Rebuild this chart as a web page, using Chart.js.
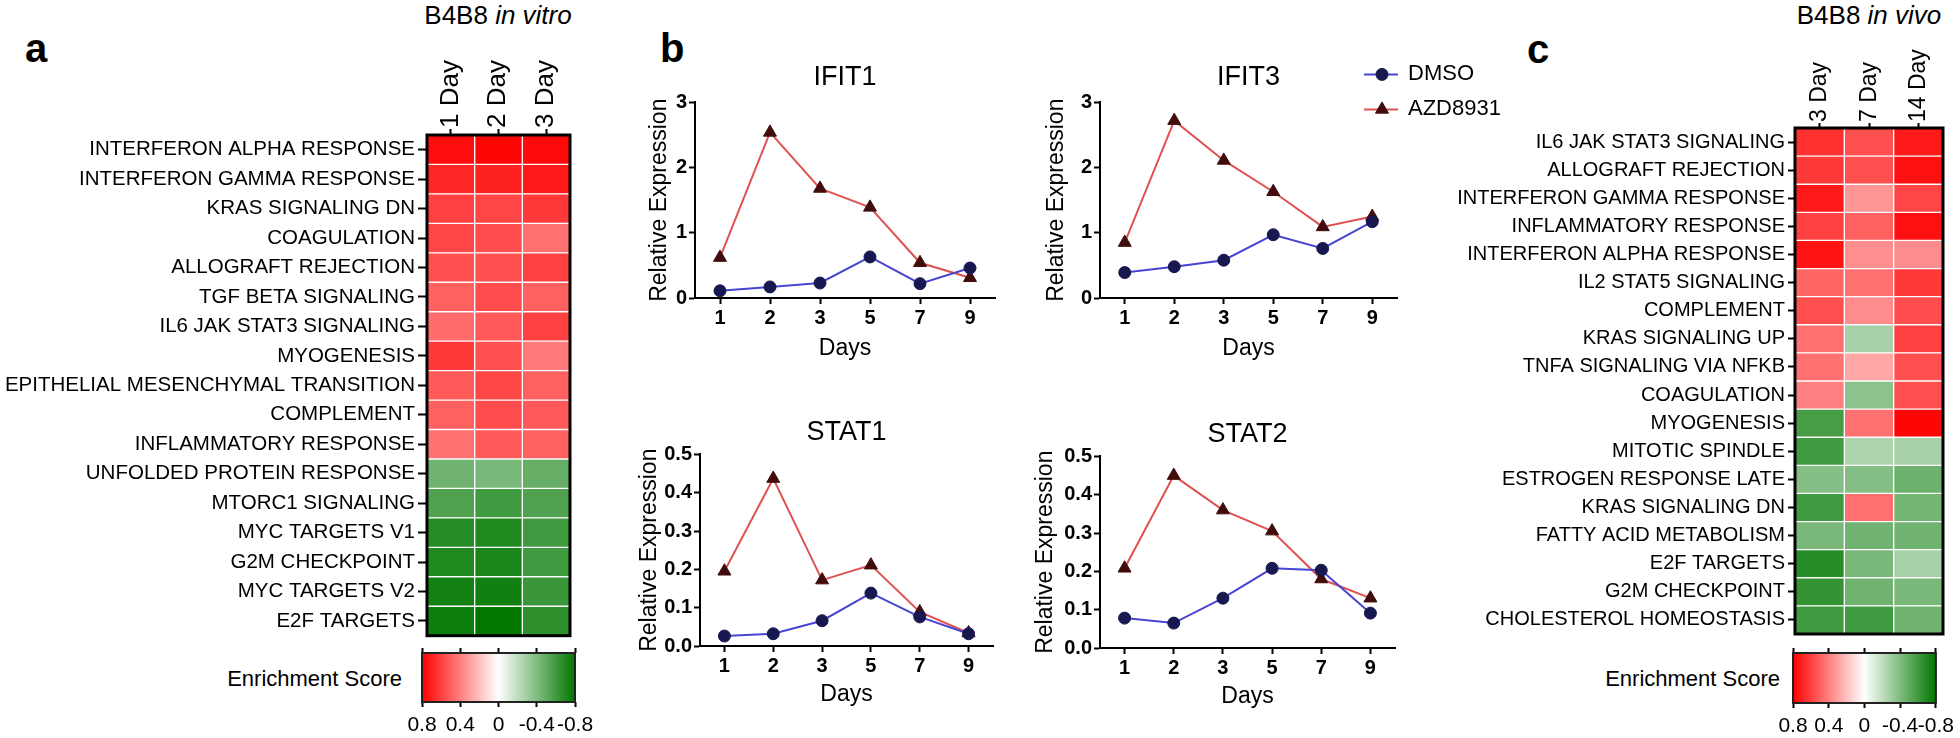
<!DOCTYPE html>
<html>
<head>
<meta charset="utf-8">
<script src="https://cdn.jsdelivr.net/npm/chart.js@4.4.1/dist/chart.umd.min.js"></script>
<style>
body { margin: 0; background: #fff; width: 1960px; height: 738px; position: relative; overflow: hidden;
       font-family: "Liberation Sans", Arial, sans-serif; color: #000; }
canvas { position: absolute; }
.lbl { position: absolute; white-space: nowrap; line-height: 1; }
.panel { font-size: 40px; font-weight: bold; }
.head { font-size: 26px; text-align: center; width: 200px; }
.es { font-size: 22px; text-align: right; width: 220px; }
</style>
</head>
<body>
<div class="lbl panel" style="left:25px;top:28px">a</div>
<div class="lbl panel" style="left:660px;top:28px">b</div>
<div class="lbl panel" style="left:1527px;top:29px">c</div>
<div class="lbl head" style="left:398px;top:2px">B4B8 <i>in vitro</i></div>
<div class="lbl head" style="left:1769px;top:2px">B4B8 <i>in vivo</i></div>
<div class="lbl es" style="left:182px;top:668px">Enrichment Score</div>
<div class="lbl es" style="left:1560px;top:668px">Enrichment Score</div>

<canvas id="heatVitro" width="580" height="651" style="left:0;top:0"></canvas>
<canvas id="barVitro" width="230" height="98" style="left:380px;top:640px"></canvas>
<canvas id="ifit1" width="354" height="301" style="left:646px;top:61px"></canvas>
<canvas id="ifit3" width="464" height="301" style="left:1043px;top:61px"></canvas>
<canvas id="stat1" width="362" height="292" style="left:636px;top:416px"></canvas>
<canvas id="stat2" width="368" height="292" style="left:1032px;top:418px"></canvas>
<canvas id="heatVivo" width="520" height="649" style="left:1440px;top:0"></canvas>
<canvas id="barVivo" width="210" height="98" style="left:1750px;top:640px"></canvas>

<script>
Chart.defaults.font.family = '"Liberation Sans", Arial, sans-serif';
Chart.defaults.color = '#000';

// ---- panel a: in vitro heatmap
const ROWS_VITRO = ['INTERFERON ALPHA RESPONSE', 'INTERFERON GAMMA RESPONSE', 'KRAS SIGNALING DN',
    'COAGULATION', 'ALLOGRAFT REJECTION', 'TGF BETA SIGNALING', 'IL6 JAK STAT3 SIGNALING', 'MYOGENESIS',
    'EPITHELIAL MESENCHYMAL TRANSITION', 'COMPLEMENT', 'INFLAMMATORY RESPONSE', 'UNFOLDED PROTEIN RESPONSE',
    'MTORC1 SIGNALING', 'MYC TARGETS V1', 'G2M CHECKPOINT', 'MYC TARGETS V2', 'E2F TARGETS'];
const COLS_VITRO = ['1 Day', '2 Day', '3 Day'];
const VITRO_DAY1 = [0.76, 0.68, 0.6, 0.58, 0.55, 0.5, 0.46, 0.62, 0.52, 0.5, 0.45, -0.45, -0.55, -0.68, -0.7, -0.74, -0.76];
const VITRO_DAY2 = [0.78, 0.7, 0.58, 0.56, 0.55, 0.56, 0.52, 0.55, 0.58, 0.56, 0.52, -0.42, -0.6, -0.7, -0.72, -0.75, -0.8];
const VITRO_DAY3 = [0.77, 0.72, 0.62, 0.45, 0.6, 0.5, 0.6, 0.42, 0.5, 0.52, 0.5, -0.48, -0.55, -0.6, -0.6, -0.62, -0.66];

// ---- panel c: in vivo heatmap
const ROWS_VIVO = ['IL6 JAK STAT3 SIGNALING', 'ALLOGRAFT REJECTION', 'INTERFERON GAMMA RESPONSE',
    'INFLAMMATORY RESPONSE', 'INTERFERON ALPHA RESPONSE', 'IL2 STAT5 SIGNALING', 'COMPLEMENT',
    'KRAS SIGNALING UP', 'TNFA SIGNALING VIA NFKB', 'COAGULATION', 'MYOGENESIS', 'MITOTIC SPINDLE',
    'ESTROGEN RESPONSE LATE', 'KRAS SIGNALING DN', 'FATTY ACID METABOLISM', 'E2F TARGETS',
    'G2M CHECKPOINT', 'CHOLESTEROL HOMEOSTASIS'];
const COLS_VIVO = ['3 Day', '7 Day', '14 Day'];
const VIVO_DAY3 = [0.65, 0.62, 0.72, 0.6, 0.74, 0.48, 0.55, 0.45, 0.45, 0.4, -0.58, -0.6, -0.38, -0.6, -0.42, -0.68, -0.64, -0.6];
const VIVO_DAY7 = [0.55, 0.55, 0.33, 0.5, 0.35, 0.45, 0.36, -0.27, 0.28, -0.36, 0.45, -0.25, -0.38, 0.45, -0.45, -0.42, -0.45, -0.6];
const VIVO_DAY14 = [0.72, 0.75, 0.58, 0.75, 0.36, 0.62, 0.56, 0.6, 0.55, 0.55, 0.78, -0.28, -0.46, -0.44, -0.45, -0.28, -0.42, -0.45];

// ---- colour bar
const SCORE_TICKS = [0.8, 0.4, 0, -0.4, -0.8];
const SCORE_LABELS = ['0.8', '0.4', '0', '-0.4', '-0.8'];

// ---- panel b: qPCR time courses
const DAYS = ['1', '2', '3', '5', '7', '9'];
const IFIT_TICKS = [0, 1, 2, 3];
const STAT_TICKS = [0, 0.1, 0.2, 0.3, 0.4, 0.5];
const IFIT1_DMSO = [0.11, 0.17, 0.23, 0.63, 0.22, 0.46];
const IFIT1_AZD = [0.62, 2.54, 1.68, 1.39, 0.54, 0.31];
const IFIT3_DMSO = [0.39, 0.48, 0.58, 0.97, 0.76, 1.17];
const IFIT3_AZD = [0.85, 2.72, 2.11, 1.63, 1.09, 1.25];
const STAT1_DMSO = [0.026, 0.032, 0.066, 0.138, 0.076, 0.032];
const STAT1_AZD = [0.195, 0.437, 0.172, 0.211, 0.089, 0.034];
const STAT2_DMSO = [0.078, 0.065, 0.13, 0.208, 0.203, 0.091];
const STAT2_AZD = [0.208, 0.45, 0.36, 0.305, 0.18, 0.13];


function scoreColor(v) {
    const t = Math.min(Math.abs(v) / 0.8, 1);
    const c = Math.round(255 * (1 - t));
    if (v >= 0) return `rgb(255,${c},${c})`;
    return `rgb(${c},${Math.round(255 - 135 * t)},${c})`;
}

function scoreGradient(chart) {
    const {ctx, chartArea, scales} = chart;
    if (!chartArea) return '#fff';
    const x0 = scales.x.getPixelForValue(SCORE_TICKS[0]);
    const x1 = scales.x.getPixelForValue(SCORE_TICKS[SCORE_TICKS.length - 1]);
    const g = ctx.createLinearGradient(x0, 0, x1, 0);
    g.addColorStop(0, scoreColor(0.8));
    g.addColorStop(0.5, '#fff');
    g.addColorStop(1, scoreColor(-0.8));
    return g;
}

// black box round the plot area
const frame = {
    id: 'frame',
    afterDatasetsDraw(chart, args, opts) {
        const {ctx, chartArea: a} = chart;
        ctx.save();
        ctx.lineWidth = opts.width;
        ctx.strokeStyle = opts.color;
        ctx.strokeRect(a.left, a.top, a.right - a.left, a.bottom - a.top);
        ctx.restore();
    }
};

function drawMarker(ctx, style, r, x, y) {
    ctx.beginPath();
    if (style === 'triangle') {
        ctx.moveTo(x, y - r);
        ctx.lineTo(x + r * Math.sin(2 * Math.PI / 3), y - r * Math.cos(2 * Math.PI / 3));
        ctx.lineTo(x + r * Math.sin(4 * Math.PI / 3), y - r * Math.cos(4 * Math.PI / 3));
        ctx.closePath();
    } else {
        ctx.arc(x, y, r, 0, Math.PI * 2);
    }
    ctx.fill();
    ctx.stroke();
}

// legend placed above the right end of the plot, like the original
const seriesKey = {
    id: 'seriesKey',
    afterDraw(chart, args, opts) {
        if (!opts.show) return;
        const {ctx, chartArea} = chart;
        chart.data.datasets.forEach((ds, i) => {
            const x = chartArea.right + opts.x;
            const y = chartArea.top + opts.y + i * opts.gap;
            ctx.save();
            ctx.strokeStyle = ds.borderColor;
            ctx.lineWidth = ds.borderWidth;
            ctx.beginPath();
            ctx.moveTo(x, y);
            ctx.lineTo(x + 34, y);
            ctx.stroke();
            ctx.fillStyle = ds.pointBackgroundColor;
            ctx.strokeStyle = ds.pointBorderColor;
            ctx.lineWidth = 1;
            drawMarker(ctx, ds.pointStyle, ds.pointRadius, x + 18, y);
            ctx.fillStyle = '#000';
            ctx.font = '22px "Liberation Sans", Arial, sans-serif';
            ctx.textBaseline = 'middle';
            ctx.fillText(ds.label, x + 44, y);
            ctx.restore();
        });
    }
};

function heatmap(id, rows, cols, columns, box) {
    new Chart(document.getElementById(id), {
        type: 'bar',
        data: {
            labels: rows,
            datasets: columns.map((vals, j) => ({
                label: cols[j],
                data: vals.map(() => [j, j + 1]),
                backgroundColor: vals.map(scoreColor),
                borderColor: '#fff',
                borderWidth: 1,
                borderSkipped: false,
                barPercentage: 1,
                categoryPercentage: 1,
                grouped: false
            }))
        },
        options: {
            indexAxis: 'y',
            responsive: false,
            animation: false,
            layout: {padding: box.pad, autoPadding: false},
            plugins: {
                legend: {display: false},
                tooltip: {enabled: false},
                frame: {width: 3, color: '#000'}
            },
            scales: {
                x: {
                    type: 'linear', position: 'top', min: 0, max: cols.length,
                    afterBuildTicks: s => { s.ticks = cols.map((c, j) => ({value: j + 0.5})); },
                    afterFit: s => { s.height = box.xh; },
                    // rotated top labels sit one line height left of the tick; pull them back
                    ticks: {callback: (v, i) => cols[i], minRotation: 90, maxRotation: 90, autoSkip: false,
                        padding: 1, labelOffset: Math.round(box.colFont * 1.2), font: {size: box.colFont}},
                    grid: {drawOnChartArea: false, tickLength: box.colTick, tickWidth: 2, tickColor: '#000'},
                    border: {display: false}
                },
                y: {
                    afterFit: s => { s.width = box.yw; },
                    ticks: {autoSkip: false, padding: 3, font: {size: box.rowFont}},
                    grid: {drawOnChartArea: false, offset: false, tickLength: box.rowTick, tickWidth: 2, tickColor: '#000'},
                    border: {display: false}
                }
            }
        },
        plugins: [frame]
    });
}

function colorbar(id, box) {
    const axis = {
        type: 'linear',
        min: SCORE_TICKS[SCORE_TICKS.length - 1],
        max: SCORE_TICKS[0],
        reverse: true,
        afterBuildTicks: s => { s.ticks = SCORE_TICKS.map(v => ({value: v})); },
        grid: {drawOnChartArea: false, tickLength: 5, tickWidth: 2, tickColor: '#000'},
        border: {display: false}
    };
    new Chart(document.getElementById(id), {
        type: 'bar',
        data: {
            labels: ['Enrichment Score'],
            datasets: [{
                data: [[SCORE_TICKS[0], SCORE_TICKS[SCORE_TICKS.length - 1]]],
                backgroundColor: c => scoreGradient(c.chart),
                borderWidth: 0,
                barPercentage: 1,
                categoryPercentage: 1
            }]
        },
        options: {
            indexAxis: 'y',
            responsive: false,
            animation: false,
            layout: {padding: box.pad, autoPadding: false},
            plugins: {
                legend: {display: false},
                tooltip: {enabled: false},
                frame: {width: 2, color: '#222'}
            },
            scales: {
                x: Object.assign({}, axis, {
                    position: 'bottom',
                    afterFit: s => { s.height = box.xh; },
                    ticks: {callback: (v, i) => SCORE_LABELS[i], autoSkip: false, maxRotation: 0, padding: 6, font: {size: 21}}
                }),
                x2: Object.assign({}, axis, {
                    axis: 'x',
                    position: 'top',
                    afterFit: s => { s.height = 13; },
                    ticks: {display: false}
                }),
                y: {display: false}
            }
        },
        plugins: [frame]
    });
}

function lineChart(id, title, dmso, azd, yTicks, digits, box, key) {
    const tickGrid = {drawOnChartArea: false, offset: false, tickLength: 6, tickWidth: 2, tickColor: '#000'};
    const axisLine = {color: '#000', width: 2};
    new Chart(document.getElementById(id), {
        type: 'line',
        data: {
            labels: DAYS,
            datasets: [
                {
                    label: 'DMSO',
                    data: dmso,
                    borderColor: '#4646d2',
                    borderWidth: 2,
                    pointStyle: 'circle',
                    pointRadius: 6,
                    pointBackgroundColor: '#181850',
                    pointBorderColor: '#181850',
                    pointBorderWidth: 1
                },
                {
                    label: 'AZD8931',
                    data: azd,
                    borderColor: '#e05252',
                    borderWidth: 2,
                    pointStyle: 'triangle',
                    pointRadius: 7.5,
                    pointBackgroundColor: '#400c0c',
                    pointBorderColor: '#400c0c',
                    pointBorderWidth: 1
                }
            ]
        },
        options: {
            responsive: false,
            animation: false,
            layout: {padding: {left: 0, top: 0, bottom: 0, right: box.padRight}, autoPadding: false},
            plugins: {
                legend: {display: false},
                tooltip: {enabled: false},
                title: {
                    display: true, text: title, fullSize: false, color: '#000',
                    font: {size: 27, weight: 'normal'},
                    padding: {top: 0, bottom: box.tpad}
                },
                seriesKey: key || {show: false}
            },
            scales: {
                x: {
                    offset: true,
                    afterFit: s => { s.height = box.xh; },
                    ticks: {font: {size: 20, weight: 'bold'}, padding: 2, maxRotation: 0},
                    grid: tickGrid,
                    border: axisLine,
                    title: {display: true, text: 'Days', font: {size: 23}, padding: 0}
                },
                y: {
                    min: yTicks[0],
                    max: yTicks[yTicks.length - 1],
                    afterBuildTicks: s => { s.ticks = yTicks.map(v => ({value: v})); },
                    afterFit: s => { s.width = box.yw; },
                    ticks: {callback: v => v.toFixed(digits), font: {size: 20, weight: 'bold'}, padding: 2},
                    grid: tickGrid,
                    border: axisLine,
                    title: {display: true, text: 'Relative Expression', font: {size: 23}, padding: 0}
                }
            }
        },
        plugins: [seriesKey]
    });
}

heatmap('heatVitro', ROWS_VITRO, COLS_VITRO, [VITRO_DAY1, VITRO_DAY2, VITRO_DAY3],
    {pad: {left: 0, top: 0, right: 10, bottom: 14}, yw: 427, xh: 135, rowFont: 20.5, colFont: 26, rowTick: 9, colTick: 6});
heatmap('heatVivo', ROWS_VIVO, COLS_VIVO, [VIVO_DAY3, VIVO_DAY7, VIVO_DAY14],
    {pad: {left: 0, top: 0, right: 17, bottom: 14}, yw: 355, xh: 128, rowFont: 20, colFont: 23, rowTick: 7, colTick: 5});

colorbar('barVitro', {pad: {left: 42, right: 35, top: 0, bottom: 0}, xh: 36});
colorbar('barVivo', {pad: {left: 43, right: 18, top: 0, bottom: 0}, xh: 35});

lineChart('ifit1', 'IFIT1', IFIT1_DMSO, IFIT1_AZD, IFIT_TICKS, 0,
    {padRight: 5, tpad: 9, yw: 49, xh: 64});
lineChart('ifit3', 'IFIT3', IFIT3_DMSO, IFIT3_AZD, IFIT_TICKS, 0,
    {padRight: 110, tpad: 9, yw: 57, xh: 64},
    {show: true, x: -33, y: -28, gap: 35});
lineChart('stat1', 'STAT1', STAT1_DMSO, STAT1_AZD, STAT_TICKS, 1,
    {padRight: 5, tpad: 6, yw: 64, xh: 62});
lineChart('stat2', 'STAT2', STAT2_DMSO, STAT2_AZD, STAT_TICKS, 1,
    {padRight: 5, tpad: 6, yw: 68, xh: 62});
</script>
</body>
</html>
